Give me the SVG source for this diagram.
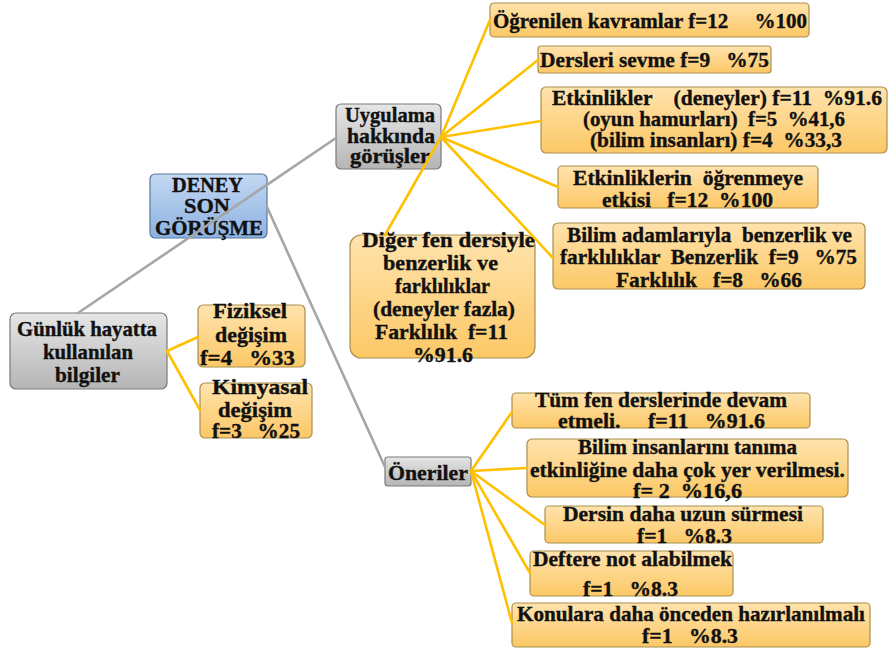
<svg xmlns="http://www.w3.org/2000/svg" width="888" height="651" viewBox="0 0 888 651">
<defs>
<linearGradient id="gOr" x1="0" y1="0" x2="0" y2="1"><stop offset="0" stop-color="#ffe3ad"/><stop offset="1" stop-color="#fcc866"/></linearGradient>
<linearGradient id="gGr" x1="0" y1="0" x2="0" y2="1"><stop offset="0" stop-color="#e6e6e6"/><stop offset="1" stop-color="#b5b5b5"/></linearGradient>
<linearGradient id="gBl" x1="0" y1="0" x2="0" y2="1"><stop offset="0" stop-color="#c4d8f2"/><stop offset="1" stop-color="#8cb2e2"/></linearGradient>
</defs>
<style>
text{font-family:'Liberation Serif','Times New Roman',serif;font-weight:700;font-size:21px;fill:#111;stroke:#111;stroke-width:0.35;white-space:pre}
.or{fill:url(#gOr);stroke:#a8904f;stroke-width:1.2}
.gr{fill:url(#gGr);stroke:#7a7a7a;stroke-width:1.2}
.bl{fill:url(#gBl);stroke:#56789f;stroke-width:1.2}
.cy{stroke:#ffc000;stroke-width:2.6;fill:none;stroke-linecap:round}
.cg{stroke:#a6a6a6;stroke-width:2.6;fill:none;stroke-linecap:round}
</style>
<rect width="888" height="651" fill="#ffffff"/>
<g id="n-deney"><rect class="bl" x="150" y="174" width="117" height="64" rx="5"/>
<text x="172" y="192" textLength="71" lengthAdjust="spacingAndGlyphs">DENEY</text>
<text x="184" y="213" textLength="46" lengthAdjust="spacingAndGlyphs">SON</text>
<text x="155" y="235" textLength="108" lengthAdjust="spacingAndGlyphs">GÖRÜŞME</text></g>

<g id="n-uygulama"><rect class="gr" x="336" y="104" width="105" height="65" rx="5"/>
<text x="345" y="122" textLength="90" lengthAdjust="spacingAndGlyphs">Uygulama</text>
<text x="347" y="143" textLength="88" lengthAdjust="spacingAndGlyphs">hakkında</text>
<text x="350" y="163" textLength="80" lengthAdjust="spacingAndGlyphs">görüşler</text></g>

<g id="n-ogrenilen"><rect class="or" x="490" y="3" width="319" height="34" rx="4"/>
<text x="493" y="28" textLength="314" lengthAdjust="spacingAndGlyphs">Öğrenilen kavramlar f=12     %100</text></g>

<g id="n-dersleri"><rect class="or" x="538" y="46" width="233" height="27" rx="3"/>
<text x="540" y="67" textLength="229" lengthAdjust="spacingAndGlyphs">Dersleri sevme f=9   %75</text></g>

<g id="n-etkinlikler"><rect class="or" x="541" y="87" width="346" height="66" rx="5"/>
<text x="552" y="105" textLength="330" lengthAdjust="spacingAndGlyphs">Etkinlikler    (deneyler) f=11  %91.6</text>
<text x="583" y="126" textLength="262" lengthAdjust="spacingAndGlyphs">(oyun hamurları)  f=5  %41,6</text>
<text x="590" y="147" textLength="252" lengthAdjust="spacingAndGlyphs">(bilim insanları) f=4  %33,3</text></g>

<g id="n-etkinliklerin"><rect class="or" x="558" y="166" width="260" height="42" rx="4"/>
<text x="573" y="185" textLength="230" lengthAdjust="spacingAndGlyphs">Etkinliklerin  öğrenmeye</text>
<text x="602" y="207" textLength="171" lengthAdjust="spacingAndGlyphs">etkisi   f=12  %100</text></g>

<g id="n-bilimadam"><rect class="or" x="553" y="223" width="312" height="66" rx="5"/>
<text x="567" y="242" textLength="285" lengthAdjust="spacingAndGlyphs">Bilim adamlarıyla  benzerlik ve</text>
<text x="560" y="264" textLength="297" lengthAdjust="spacingAndGlyphs">farklılıklar  Benzerlik  f=9   %75</text>
<text x="616" y="287" textLength="186" lengthAdjust="spacingAndGlyphs">Farklılık   f=8   %66</text></g>

<g id="n-diger"><rect class="or" x="350" y="235" width="185" height="123" rx="11"/>
<text x="362" y="247" textLength="173" lengthAdjust="spacingAndGlyphs">Diğer fen dersiyle</text>
<text x="383" y="270" textLength="115" lengthAdjust="spacingAndGlyphs">benzerlik ve</text>
<text x="395" y="293" textLength="95" lengthAdjust="spacingAndGlyphs">farklılıklar</text>
<text x="373" y="316" textLength="142" lengthAdjust="spacingAndGlyphs">(deneyler fazla)</text>
<text x="375" y="339" textLength="133" lengthAdjust="spacingAndGlyphs">Farklılık  f=11</text>
<text x="413" y="362" textLength="60" lengthAdjust="spacingAndGlyphs">%91.6</text></g>

<g id="n-gunluk"><rect class="gr" x="10" y="313" width="157" height="76" rx="6"/>
<text x="17" y="336" textLength="140" lengthAdjust="spacingAndGlyphs">Günlük hayatta</text>
<text x="43" y="359" textLength="90" lengthAdjust="spacingAndGlyphs">kullanılan</text>
<text x="55" y="382" textLength="65" lengthAdjust="spacingAndGlyphs">bilgiler</text></g>

<g id="n-fiziksel"><rect class="or" x="198" y="305" width="107" height="62" rx="5"/>
<text x="213" y="318" textLength="74" lengthAdjust="spacingAndGlyphs">Fiziksel</text>
<text x="215" y="342" textLength="72" lengthAdjust="spacingAndGlyphs">değişim</text>
<text x="200" y="365" textLength="95" lengthAdjust="spacingAndGlyphs">f=4   %33</text></g>

<g id="n-kimyasal"><rect class="or" x="200" y="383" width="112" height="55" rx="5"/>
<text x="212" y="394" textLength="96" lengthAdjust="spacingAndGlyphs">Kimyasal</text>
<text x="218" y="417" textLength="74" lengthAdjust="spacingAndGlyphs">değişim</text>
<text x="212" y="438" textLength="88" lengthAdjust="spacingAndGlyphs">f=3   %25</text></g>

<g id="n-oneriler"><rect class="gr" x="385" y="457" width="86" height="29" rx="3"/>
<text x="388" y="480" textLength="80" lengthAdjust="spacingAndGlyphs">Öneriler</text></g>

<g id="n-tum"><rect class="or" x="512" y="393" width="298" height="35" rx="4"/>
<text x="535" y="407" textLength="252" lengthAdjust="spacingAndGlyphs">Tüm fen derslerinde devam</text>
<text x="558" y="428" textLength="207" lengthAdjust="spacingAndGlyphs">etmeli.     f=11   %91.6</text></g>

<g id="n-bilimins"><rect class="or" x="527" y="439" width="321" height="58" rx="5"/>
<text x="578" y="454" textLength="219" lengthAdjust="spacingAndGlyphs">Bilim insanlarını tanıma</text>
<text x="530" y="477" textLength="315" lengthAdjust="spacingAndGlyphs">etkinliğine daha çok yer verilmesi.</text>
<text x="633" y="498" textLength="109" lengthAdjust="spacingAndGlyphs">f= 2  %16,6</text></g>

<g id="n-dersin"><rect class="or" x="545" y="506" width="278" height="37" rx="4"/>
<text x="563" y="521" textLength="240" lengthAdjust="spacingAndGlyphs">Dersin daha uzun sürmesi</text>
<text x="637" y="543" textLength="95" lengthAdjust="spacingAndGlyphs">f=1   %8.3</text></g>

<g id="n-deftere"><rect class="or" x="530" y="551" width="203" height="45" rx="4"/>
<text x="533" y="566" textLength="199" lengthAdjust="spacingAndGlyphs">Deftere not alabilmek</text>
<text x="583" y="596" textLength="95" lengthAdjust="spacingAndGlyphs">f=1   %8.3</text></g>

<g id="n-konulara"><rect class="or" x="512" y="603" width="358" height="44" rx="4"/>
<text x="517" y="621" textLength="348" lengthAdjust="spacingAndGlyphs">Konulara daha önceden hazırlanılmalı</text>
<text x="642" y="643" textLength="96" lengthAdjust="spacingAndGlyphs">f=1   %8.3</text></g>

<g id="connectors">
<line class="cg" x1="78" y1="313" x2="336" y2="138"/>
<line class="cg" x1="267" y1="207" x2="385" y2="467"/>
<line class="cy" x1="441" y1="137" x2="490" y2="20"/>
<line class="cy" x1="441" y1="137" x2="538" y2="60"/>
<line class="cy" x1="441" y1="137" x2="541" y2="121"/>
<line class="cy" x1="441" y1="137" x2="558" y2="187"/>
<line class="cy" x1="441" y1="137" x2="553" y2="258"/>
<line class="cy" x1="441" y1="137" x2="385" y2="235"/>
<line class="cy" x1="167" y1="351" x2="198" y2="337"/>
<line class="cy" x1="167" y1="351" x2="200" y2="410"/>
<line class="cy" x1="471" y1="471" x2="512" y2="412"/>
<line class="cy" x1="471" y1="471" x2="527" y2="468"/>
<line class="cy" x1="471" y1="471" x2="545" y2="525"/>
<line class="cy" x1="471" y1="471" x2="530" y2="573"/>
<line class="cy" x1="471" y1="471" x2="512" y2="623"/>
</g>
</svg>
